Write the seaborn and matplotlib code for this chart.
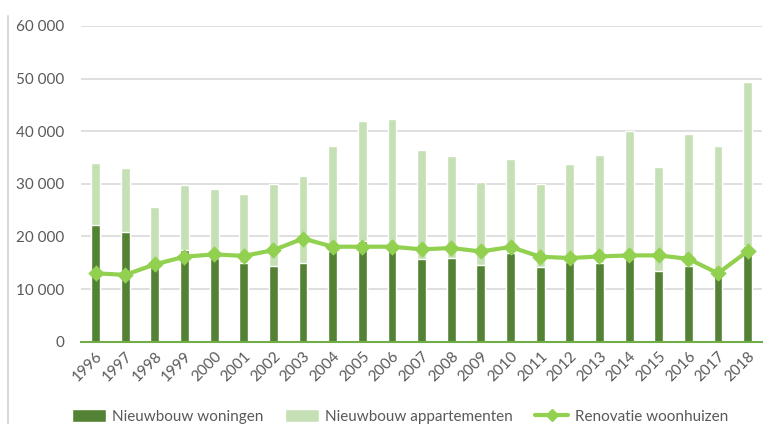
import numpy as np
import pandas as pd
import seaborn as sns
import matplotlib.pyplot as plt
from matplotlib.patches import Patch
from matplotlib.lines import Line2D
from matplotlib.ticker import FuncFormatter

# ---------- DATA
years = [str(y) for y in range(1996, 2019)]
woningen = [22150, 20900, 15300, 17500, 15950, 14900, 14400, 15000, 17300, 19200, 17400,
            15700, 15900, 14600, 16850, 14200, 15150, 14900, 16100, 13500, 14450, 12950, 18150]
appartementen = [11850, 12100, 10300, 12200, 13050, 13250, 15650, 16500, 19850, 22750, 24950,
                 20750, 19400, 15700, 17950, 15850, 18700, 20550, 23950, 19600, 25050, 24300, 31150]
renovatie = [13000, 12700, 14700, 16150, 16600, 16300, 17400, 19600, 18050, 18050, 18050,
             17550, 17800, 17150, 18000, 16150, 15900, 16200, 16400, 16400, 15750, 13000, 17200]

dark = "#548235"
light = "#c5e0b4"
lgreen = "#92d050"

df = pd.DataFrame({"year": years, "woningen": woningen,
                   "appartementen": appartementen, "renovatie": renovatie})
df["total"] = df["woningen"] + df["appartementen"]

# ---------- PLOT
sns.set_theme(style="white")
plt.rcParams["font.family"] = ["Lato", "DejaVu Sans"]

fig = plt.figure(figsize=(7.69, 4.24), dpi=100)
ax = fig.add_axes([0.105, 0.194, 0.8865, 0.745])

# stacked bars: total (light) behind, woningen (dark) in front
sns.barplot(data=df, x="year", y="total", color=light, saturation=1, width=0.3, ax=ax)
sns.barplot(data=df, x="year", y="woningen", color=dark, saturation=1, width=0.3, ax=ax)
sns.pointplot(data=df, x="year", y="renovatie", color=lgreen, markers="D",
              markersize=6, linewidth=3, ax=ax)

ax.set_ylim(0, 60000)
ax.set_xlim(-0.5, len(years) - 0.5)
ax.set_yticks(range(0, 60001, 10000))
ax.yaxis.set_major_formatter(FuncFormatter(lambda v, p: f"{int(v):,}".replace(",", " ")))
ax.grid(axis="y", color="#d9d9d9", linewidth=1.2)
ax.set_axisbelow(True)
for s in ["top", "right", "left"]:
    ax.spines[s].set_visible(False)
ax.spines["bottom"].set_color("#70ad47")
ax.spines["bottom"].set_linewidth(1.5)
ax.set_xlabel("")
ax.set_ylabel("")
ax.tick_params(axis="y", length=0, labelsize=11, labelcolor="#595959", pad=12)
ax.tick_params(axis="x", length=0, labelsize=11, labelcolor="#595959", pad=5)
plt.setp(ax.get_xticklabels(), rotation=45, ha="right", rotation_mode="anchor")

# vertical frame line on the left
fig.add_artist(Line2D([0.011, 0.011], [0.0, 0.962], color="#d9d9d9", linewidth=1.5))

handles = [Patch(facecolor=dark), Patch(facecolor=light),
           Line2D([0], [0], color=lgreen, linewidth=3, marker="D", markersize=6)]
labels = ["Nieuwbouw woningen", "Nieuwbouw appartementen", "Renovatie woonhuizen"]
fig.legend(handles, labels, loc="center", bbox_to_anchor=(0.52, 0.018), ncol=3,
           frameon=False, fontsize=11, handlelength=2.2, handleheight=0.9,
           columnspacing=1.45, handletextpad=0.4, labelcolor="#595959",
           borderpad=0, borderaxespad=0)

fig.savefig("out.png", dpi=100)
